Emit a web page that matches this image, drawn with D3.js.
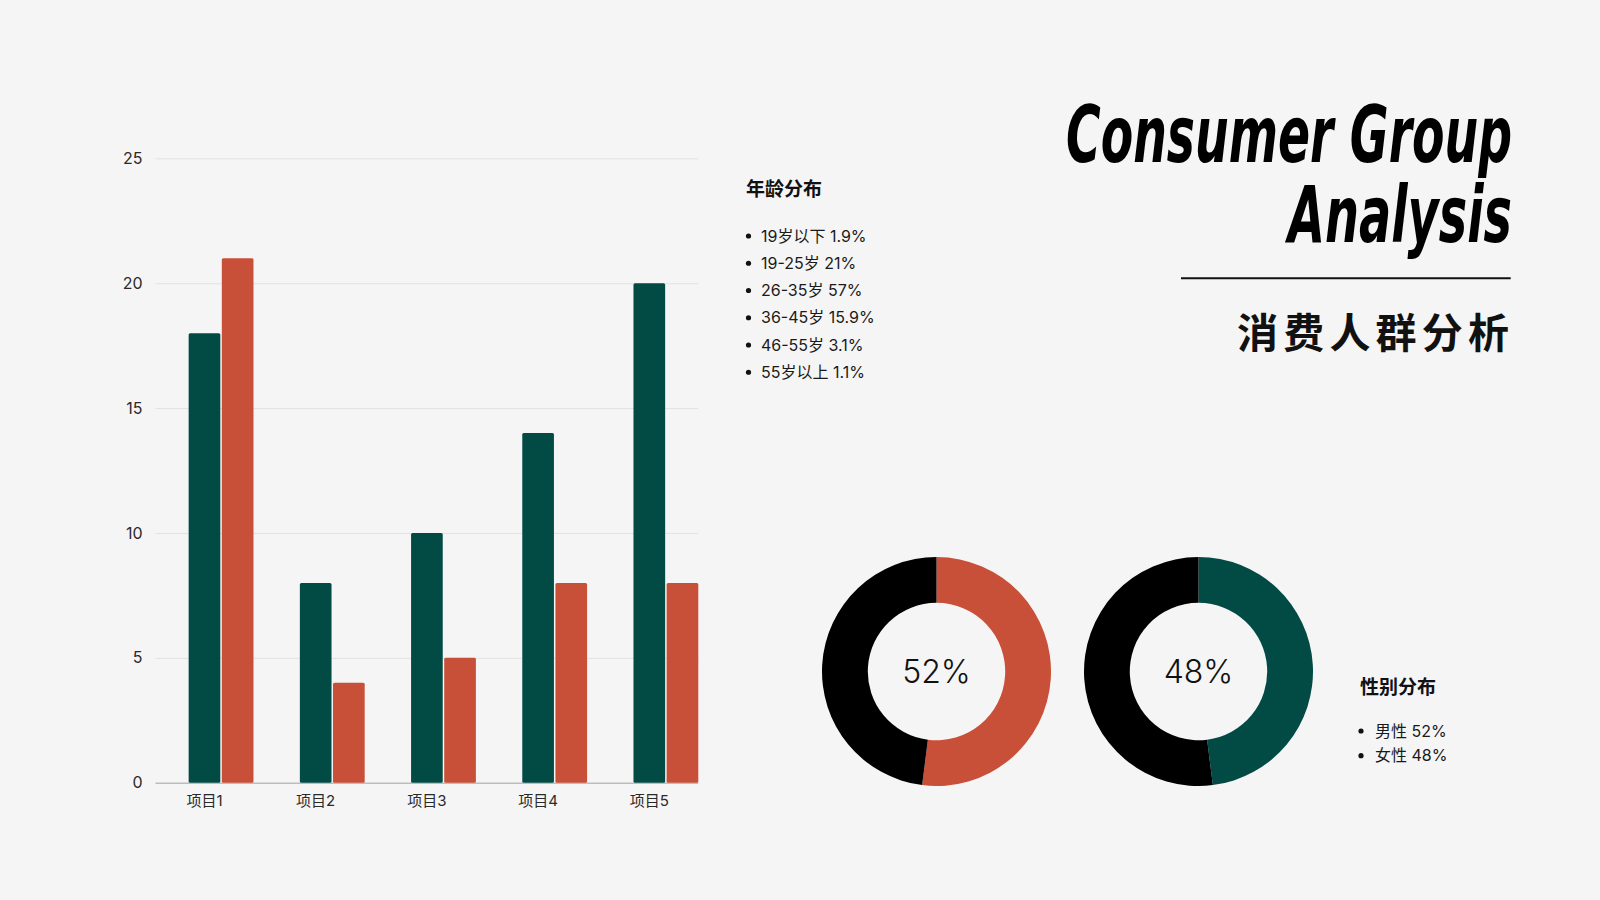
<!DOCTYPE html>
<html>
<head>
<meta charset="utf-8">
<script src="https://cdn.jsdelivr.net/npm/d3@7"></script>
<style>
  html, body { margin: 0; padding: 0; background: #f5f5f5; }
  svg { display: block; }
</style>
</head>
<body>
<div class="chart"></div>
<script>
// data
var categories = ["项目1", "项目2", "项目3", "项目4", "项目5"];
var seriesA = [18, 8, 10, 14, 20];
var seriesB = [21, 4, 5, 8, 8];
var yTicks = [0, 5, 10, 15, 20, 25];

var ageLabels = ["19岁以下", "19-25岁", "26-35岁", "36-45岁", "46-55岁", "55岁以上"];
var ageValues = ["1.9%", "21%", "57%", "15.9%", "3.1%", "1.1%"];

var genderLabels = ["男性", "女性"];
var genderValues = [52, 48];

var TEAL = "#024b45";
var RED = "#c84f38";
var CJK = "'Noto Sans CJK SC', 'Noto Sans', sans-serif";
var MIXED = "Inter, 'Noto Sans CJK SC', sans-serif";

var svg = d3.select(".chart").append("svg")
  .attr("width", 1600)
  .attr("height", 900);

svg.append("rect").attr("width", 1600).attr("height", 900).attr("fill", "#f5f5f5");

/*
  BAR CHART
*/
var plot = { left: 155.5, right: 698.3, top: 158.3, bottom: 782.7 };

var x0 = d3.scaleBand()
  .domain(categories)
  .range([plot.left, plot.right])
  .paddingInner(0.119)
  .paddingOuter(0);

// three slots per group, first one left empty so the pair sits to the right
var x1 = d3.scaleBand()
  .domain(["", "a", "b"])
  .range([0, x0.bandwidth()])
  .paddingInner(0.045);

var y = d3.scaleLinear()
  .domain([0, 25])
  .range([plot.bottom, plot.top]);

var yAxis = svg.append("g")
  .attr("transform", "translate(" + plot.left + ",0)")
  .call(d3.axisLeft(y).tickValues(yTicks).tickSize(-(plot.right - plot.left)).tickPadding(13));

yAxis.select(".domain").remove();
yAxis.selectAll(".tick line")
  .attr("stroke", function(d) { return d === 0 ? "#bdbdbd" : "#e2e2e2"; })
  .attr("stroke-width", function(d) { return d === 0 ? 1.5 : 1; });
yAxis.selectAll(".tick text")
  .attr("fill", "#2a2a2a")
  .style("font-family", "Inter, 'Noto Sans', sans-serif")
  .style("font-size", "16px");

var groups = svg.append("g").selectAll("g")
  .data(categories)
  .enter().append("g")
  .attr("transform", function(d) { return "translate(" + x0(d) + ",0)"; });

groups.append("rect")
  .attr("x", x1("a"))
  .attr("y", function(d, i) { return y(seriesA[i]); })
  .attr("width", x1.bandwidth())
  .attr("height", function(d, i) { return y(0) - y(seriesA[i]); })
  .attr("rx", 1.5)
  .attr("fill", TEAL);

groups.append("rect")
  .attr("x", x1("b"))
  .attr("y", function(d, i) { return y(seriesB[i]); })
  .attr("width", x1.bandwidth())
  .attr("height", function(d, i) { return y(0) - y(seriesB[i]); })
  .attr("rx", 1.5)
  .attr("fill", RED);

// category labels sit under the first bar of each pair
var xAxis = svg.append("g")
  .attr("transform", "translate(" + (x1("a") + x1.bandwidth() / 2 - x0.bandwidth() / 2) + "," + plot.bottom + ")")
  .call(d3.axisBottom(x0).tickSize(0));

xAxis.select(".domain").remove();
xAxis.selectAll(".tick text")
  .attr("y", 18)
  .attr("dy", "0.35em")
  .attr("fill", "#2a2a2a")
  .style("font-family", MIXED)
  .style("font-size", "15px");

/*
  AGE LIST
*/
svg.append("text")
  .attr("x", 746)
  .attr("y", 189.5)
  .attr("dy", "0.35em")
  .style("font-family", CJK)
  .style("font-size", "19px")
  .style("font-weight", 700)
  .attr("fill", "#111")
  .text("年龄分布");

var ageRows = svg.append("g").selectAll("g")
  .data(ageLabels)
  .enter().append("g")
  .attr("transform", function(d, i) { return "translate(0," + (236 + i * 27.25) + ")"; });

ageRows.append("circle").attr("cx", 748.5).attr("cy", 0).attr("r", 2.6).attr("fill", "#111");
ageRows.append("text")
  .attr("x", 761)
  .attr("dy", "0.35em")
  .style("font-family", MIXED)
  .style("font-size", "16px")
  .attr("fill", "#1a1a1a")
  .text(function(d, i) { return d + " " + ageValues[i]; });

/*
  TITLE
*/
var titleFont = "'Liberation Sans Narrow', 'DejaVu Sans Condensed', 'Liberation Sans', sans-serif";

svg.append("text")
  .attr("x", 1512)
  .attr("y", 161.7)
  .attr("text-anchor", "end")
  .attr("textLength", 446)
  .attr("lengthAdjust", "spacingAndGlyphs")
  .style("font-family", titleFont)
  .style("font-size", "79px")
  .style("font-weight", 700)
  .style("font-style", "italic")
  .attr("fill", "#000")
  .text("Consumer Group");

svg.append("text")
  .attr("x", 1512)
  .attr("y", 241.7)
  .attr("text-anchor", "end")
  .attr("textLength", 224)
  .attr("lengthAdjust", "spacingAndGlyphs")
  .style("font-family", titleFont)
  .style("font-size", "79px")
  .style("font-weight", 700)
  .style("font-style", "italic")
  .attr("fill", "#000")
  .text("Analysis");

svg.append("line")
  .attr("x1", 1181).attr("x2", 1510.7)
  .attr("y1", 278.3).attr("y2", 278.3)
  .attr("stroke", "#111")
  .attr("stroke-width", 2);

svg.append("text")
  .attr("x", 1509)
  .attr("y", 330)
  .attr("dominant-baseline", "central")
  .attr("text-anchor", "end")
  .attr("textLength", 272)
  .style("font-family", CJK)
  .style("font-size", "41px")
  .style("font-weight", 700)
  .attr("fill", "#111")
  .text("消费人群分析");

/*
  DONUTS
*/
var pie = d3.pie().sort(null).value(function(d) { return d; });
var arc = d3.arc().innerRadius(68.7).outerRadius(114.5);

var donuts = [
  { cx: 936.5, cy: 671.5, values: [genderValues[0], genderValues[1]], colors: [RED, "#000"], label: genderValues[0] + "%" },
  { cx: 1198.5, cy: 671.5, values: [genderValues[1], genderValues[0]], colors: [TEAL, "#000"], label: genderValues[1] + "%" }
];

donuts.forEach(function(dn) {
  var g = svg.append("g").attr("transform", "translate(" + dn.cx + "," + dn.cy + ")");
  g.selectAll("path")
    .data(pie(dn.values))
    .enter().append("path")
    .attr("d", arc)
    .attr("fill", function(d, i) { return dn.colors[i]; });
  g.append("text")
    .attr("text-anchor", "middle")
    .attr("dy", "0.36em")
    .style("font-family", "Inter, 'Noto Sans', sans-serif")
    .style("font-size", "32px")
    .style("font-weight", 300)
    .attr("fill", "#111")
    .text(dn.label);
});

/*
  GENDER LIST
*/
svg.append("text")
  .attr("x", 1360)
  .attr("y", 687.5)
  .attr("dy", "0.35em")
  .style("font-family", CJK)
  .style("font-size", "19px")
  .style("font-weight", 700)
  .attr("fill", "#111")
  .text("性别分布");

var genderRows = svg.append("g").selectAll("g")
  .data(genderLabels)
  .enter().append("g")
  .attr("transform", function(d, i) { return "translate(0," + (731 + i * 24.7) + ")"; });

genderRows.append("circle").attr("cx", 1361).attr("cy", 0).attr("r", 2.6).attr("fill", "#111");
genderRows.append("text")
  .attr("x", 1375)
  .attr("dy", "0.35em")
  .style("font-family", MIXED)
  .style("font-size", "16px")
  .attr("fill", "#1a1a1a")
  .text(function(d, i) { return d + " " + genderValues[i] + "%"; });
</script>
</body>
</html>
